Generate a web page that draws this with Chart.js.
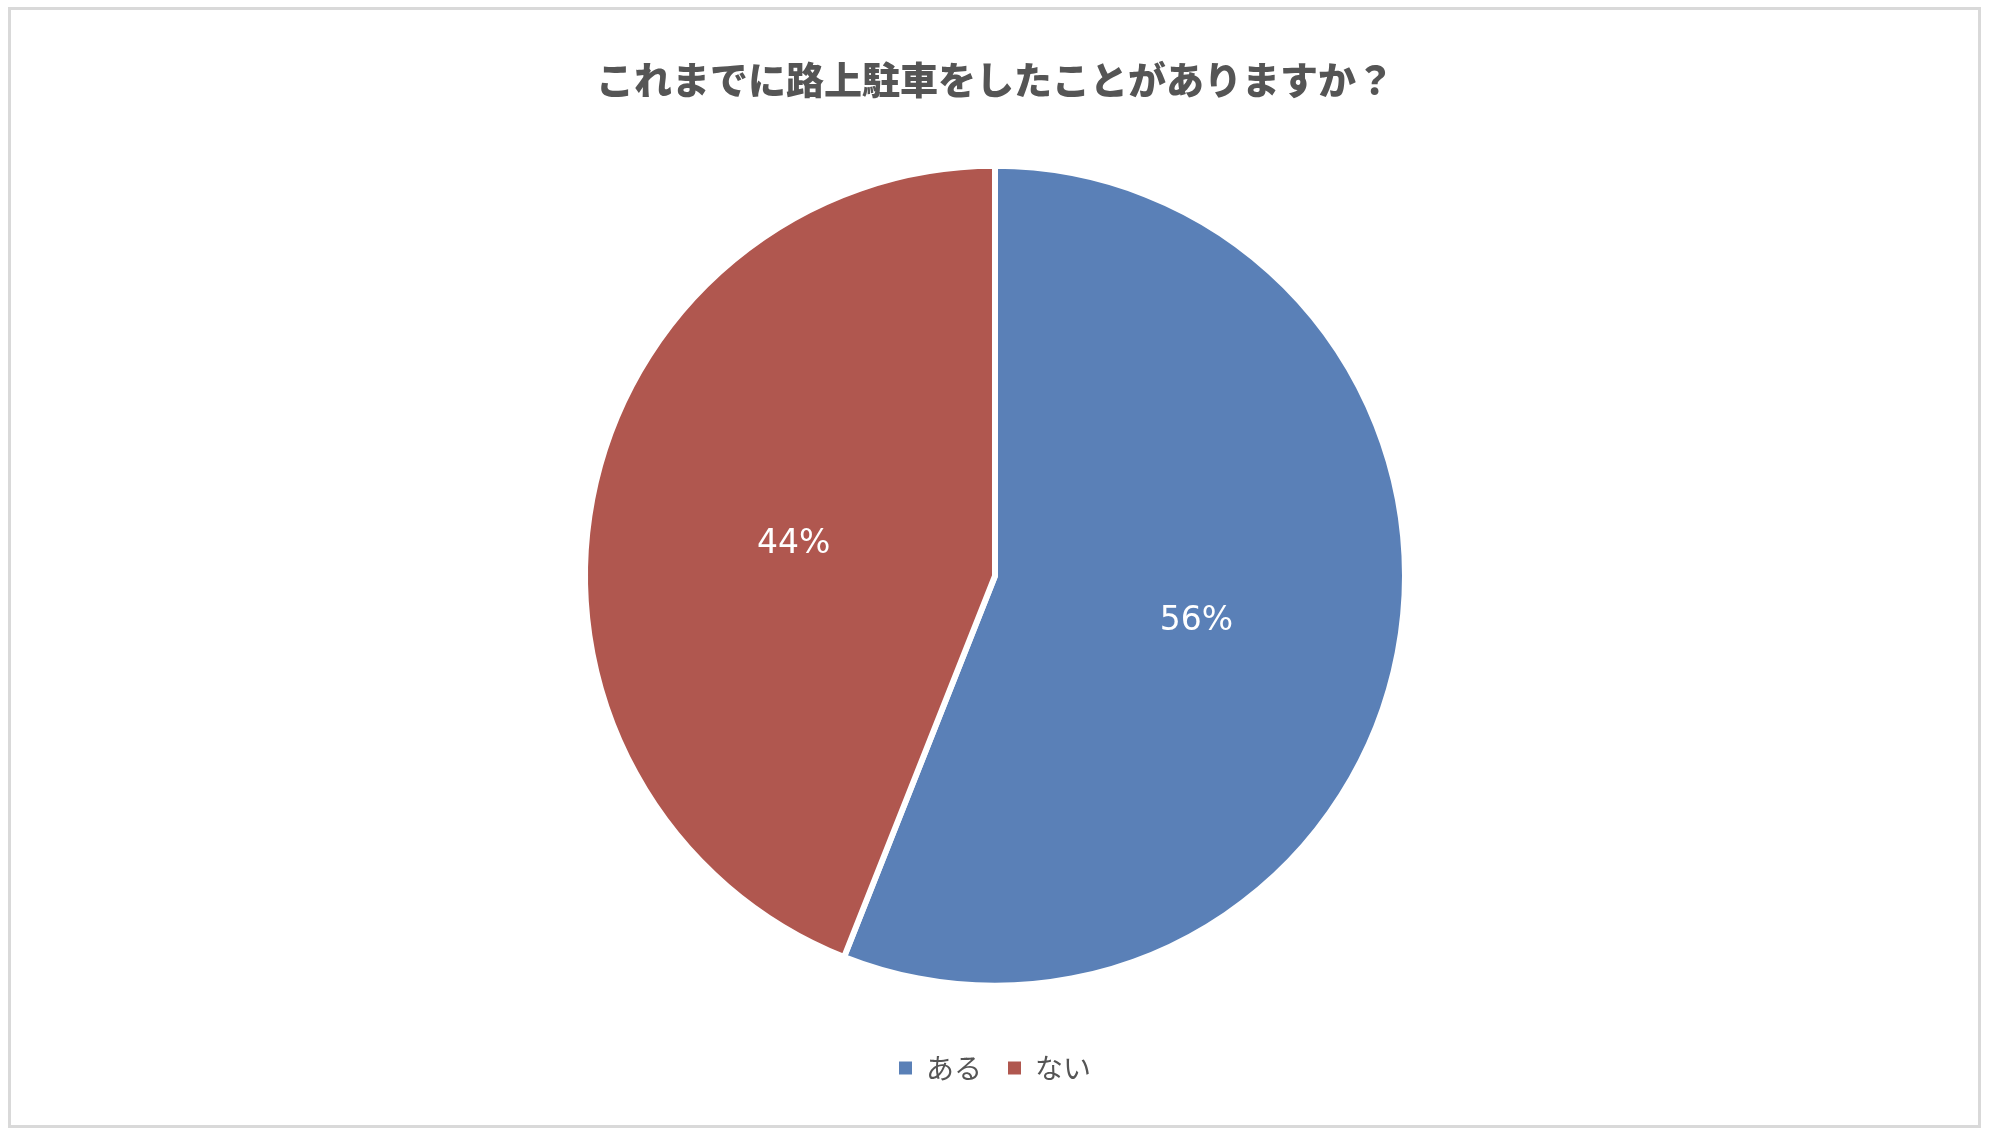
<!DOCTYPE html>
<html>
<head>
<meta charset="utf-8">
<script src="https://cdn.jsdelivr.net/npm/chart.js@4"></script>
<style>
  html, body { margin: 0; padding: 0; background: #fff; }
  #frame {
    position: absolute; left: 8px; top: 7px;
    width: 1973px; height: 1121px;
    box-sizing: border-box;
    border: 3px solid #d9d9d9;
  }
  #wrap { position: absolute; left: 0; top: 0; width: 1990px; height: 1132px; }
</style>
</head>
<body>
<div id="frame"></div>
<div id="wrap"><canvas id="myChart"></canvas></div>
<script>
const ctx = document.getElementById('myChart');

const chartTitle = 'これまでに路上駐車をしたことがありますか？';
const labels = ['ある', 'ない'];
const values = [56, 44];
const colors = ['#5a80b7', '#b0574f'];

// percent labels in the middle of each slice
const sliceLabels = {
    id: 'sliceLabels',
    afterDatasetsDraw(chart) {
        const c = chart.ctx;
        const meta = chart.getDatasetMeta(0);
        const total = values.reduce((a, b) => a + b, 0);
        c.save();
        c.fillStyle = '#ffffff';
        c.font = '33px "DejaVu Sans"';
        c.textAlign = 'center';
        c.textBaseline = 'middle';
        meta.data.forEach((arc, i) => {
            const p = arc.tooltipPosition();
            c.fillText(Math.round(values[i] / total * 100) + '%', p.x, p.y + 7);
        });
        c.restore();
    }
};

new Chart(ctx, {
    type: 'pie',
    data: {
        labels: labels,
        datasets: [{
            data: values,
            backgroundColor: colors,
            borderColor: '#ffffff',
            borderWidth: 6,
            radius: 410
        }]
    },
    options: {
        responsive: true,
        maintainAspectRatio: false,
        animation: false,
        layout: { padding: { top: 0, bottom: 40 } },
        plugins: {
            title: {
                display: true,
                text: chartTitle,
                color: '#555555',
                font: { family: '"Noto Sans CJK JP"', size: 38, weight: '900', lineHeight: 1.2 },
                padding: { top: 57, bottom: 21 }
            },
            legend: {
                position: 'bottom',
                labels: {
                    color: '#555555',
                    font: { family: '"Noto Sans CJK JP"', size: 28 },
                    boxWidth: 13,
                    boxHeight: 13,
                    padding: 26,
                    generateLabels(chart) {
                        const items = Chart.overrides.pie.plugins.legend.labels.generateLabels(chart);
                        items.forEach(it => { it.lineWidth = 0; });
                        return items;
                    }
                }
            },
            tooltip: { enabled: false }
        }
    },
    plugins: [sliceLabels]
});
</script>
</body>
</html>
